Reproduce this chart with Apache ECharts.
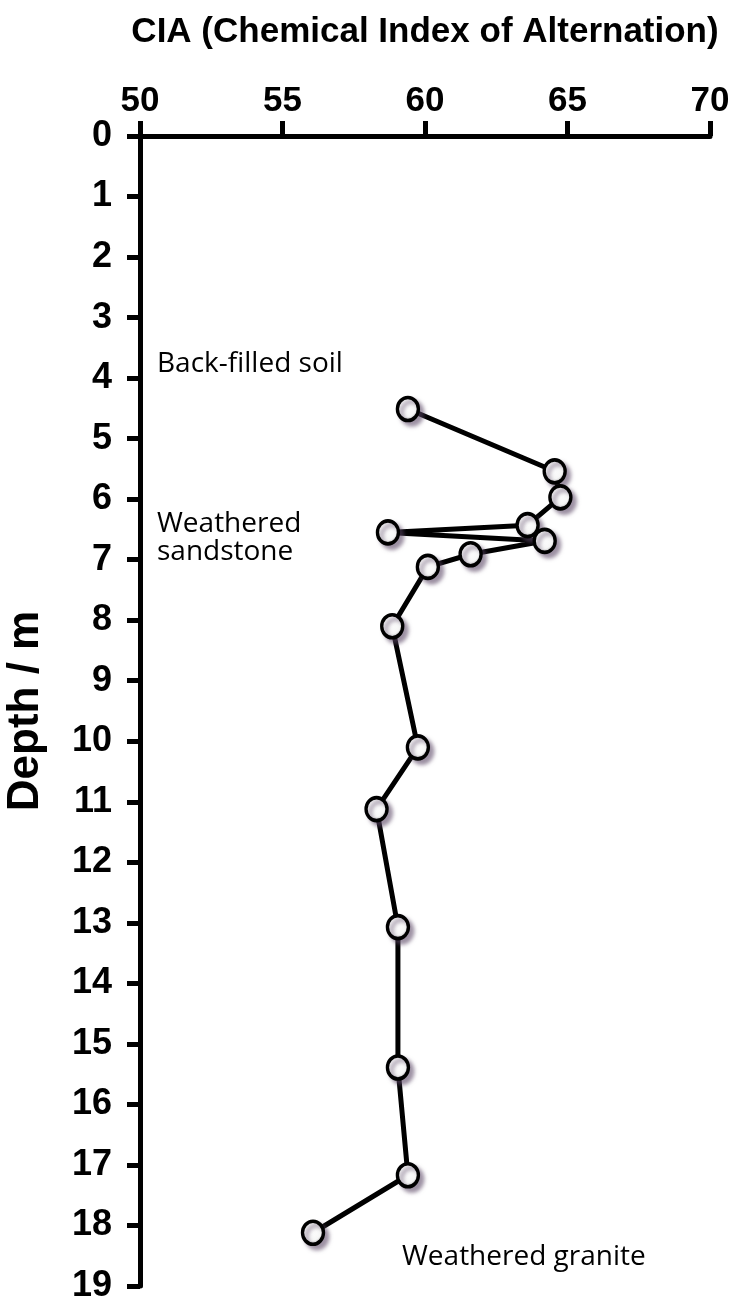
<!DOCTYPE html>
<html>
<head>
<meta charset="utf-8">
<script src="https://cdn.jsdelivr.net/npm/echarts@6/dist/echarts.min.js"></script>
<style>
html,body{margin:0;padding:0;background:#fff;}
#chart{width:745px;height:1304px;}
</style>
</head>
<body>
<div id="chart"></div>
<script>
const xTitle = 'CIA (Chemical Index of Alternation)';
const yTitle = 'Depth / m';
const ciaValues = [59.4, 64.55, 64.75, 63.6, 58.7, 64.2, 61.6, 60.1, 58.85, 59.75, 58.3, 59.05, 59.05, 59.4, 56.07];
const depthValues = [4.51, 5.54, 5.97, 6.43, 6.55, 6.69, 6.91, 7.12, 8.10, 10.10, 11.12, 13.07, 15.39, 17.17, 18.12];
const annotations = ['Back-filled soil', 'Weathered\nsandstone', 'Weathered granite'];

const chart = echarts.init(document.getElementById('chart'), null, {renderer: 'canvas'});
const points = ciaValues.map((v, i) => [v, depthValues[i]]);

const axisFont = 'Liberation Sans, Arial, sans-serif';
const noteFont = 'Open Sans, Noto Sans, sans-serif';

chart.setOption({
  backgroundColor: '#ffffff',
  animation: false,
  grid: {left: 140, top: 136, right: 35, bottom: 18, containLabel: false, outerBoundsMode: 'none'},
  xAxis: {
    type: 'value', position: 'top', min: 50, max: 70, interval: 5,
    name: xTitle, nameLocation: 'middle', nameGap: 86,
    nameTextStyle: {fontFamily: axisFont, fontWeight: 'bold', fontSize: 35, color: '#000'},
    axisLine: {show: true, lineStyle: {color: '#000', width: 5}},
    axisTick: {show: true, length: 15, lineStyle: {color: '#000', width: 5}},
    axisLabel: {fontFamily: axisFont, fontWeight: 'bold', fontSize: 35, color: '#000', margin: 17},
    splitLine: {show: false}
  },
  yAxis: {
    type: 'value', inverse: true, min: 0, max: 19, interval: 1,
    name: yTitle, nameLocation: 'middle', nameGap: 92, nameRotate: 90,
    nameTextStyle: {fontFamily: axisFont, fontWeight: 'bold', fontSize: 44, color: '#000'},
    axisLine: {show: true, lineStyle: {color: '#000', width: 5}},
    axisTick: {show: true, length: 13, lineStyle: {color: '#000', width: 5}},
    axisLabel: {fontFamily: axisFont, fontWeight: 'bold', fontSize: 36, color: '#000', margin: 28},
    splitLine: {show: false}
  },
  series: [{
    type: 'line',
    data: points,
    symbol: 'circle',
    symbolSize: [21, 23],
    lineStyle: {color: '#000', width: 5},
    itemStyle: {
      color: new echarts.graphic.RadialGradient(0.45, 0.4, 0.65, [
        {offset: 0, color: '#ffffff'},
        {offset: 0.6, color: '#f6f6f6'},
        {offset: 1, color: '#8a8a8a'}
      ]),
      borderColor: '#000',
      borderWidth: 3.5,
      shadowColor: 'rgba(90,70,100,0.55)',
      shadowBlur: 4,
      shadowOffsetX: 4,
      shadowOffsetY: 4
    },
    z: 3
  }],
  graphic: [
    {type: 'text', left: 157, top: 350, style: {text: annotations[0], font: '28px ' + noteFont, fill: '#000'}},
    {type: 'text', left: 157, top: 510, style: {text: annotations[1], font: '28px ' + noteFont, fill: '#000', lineHeight: 28}},
    {type: 'text', left: 402, top: 1243, style: {text: annotations[2], font: '28px ' + noteFont, fill: '#000'}}
  ]
});
</script>
</body>
</html>
